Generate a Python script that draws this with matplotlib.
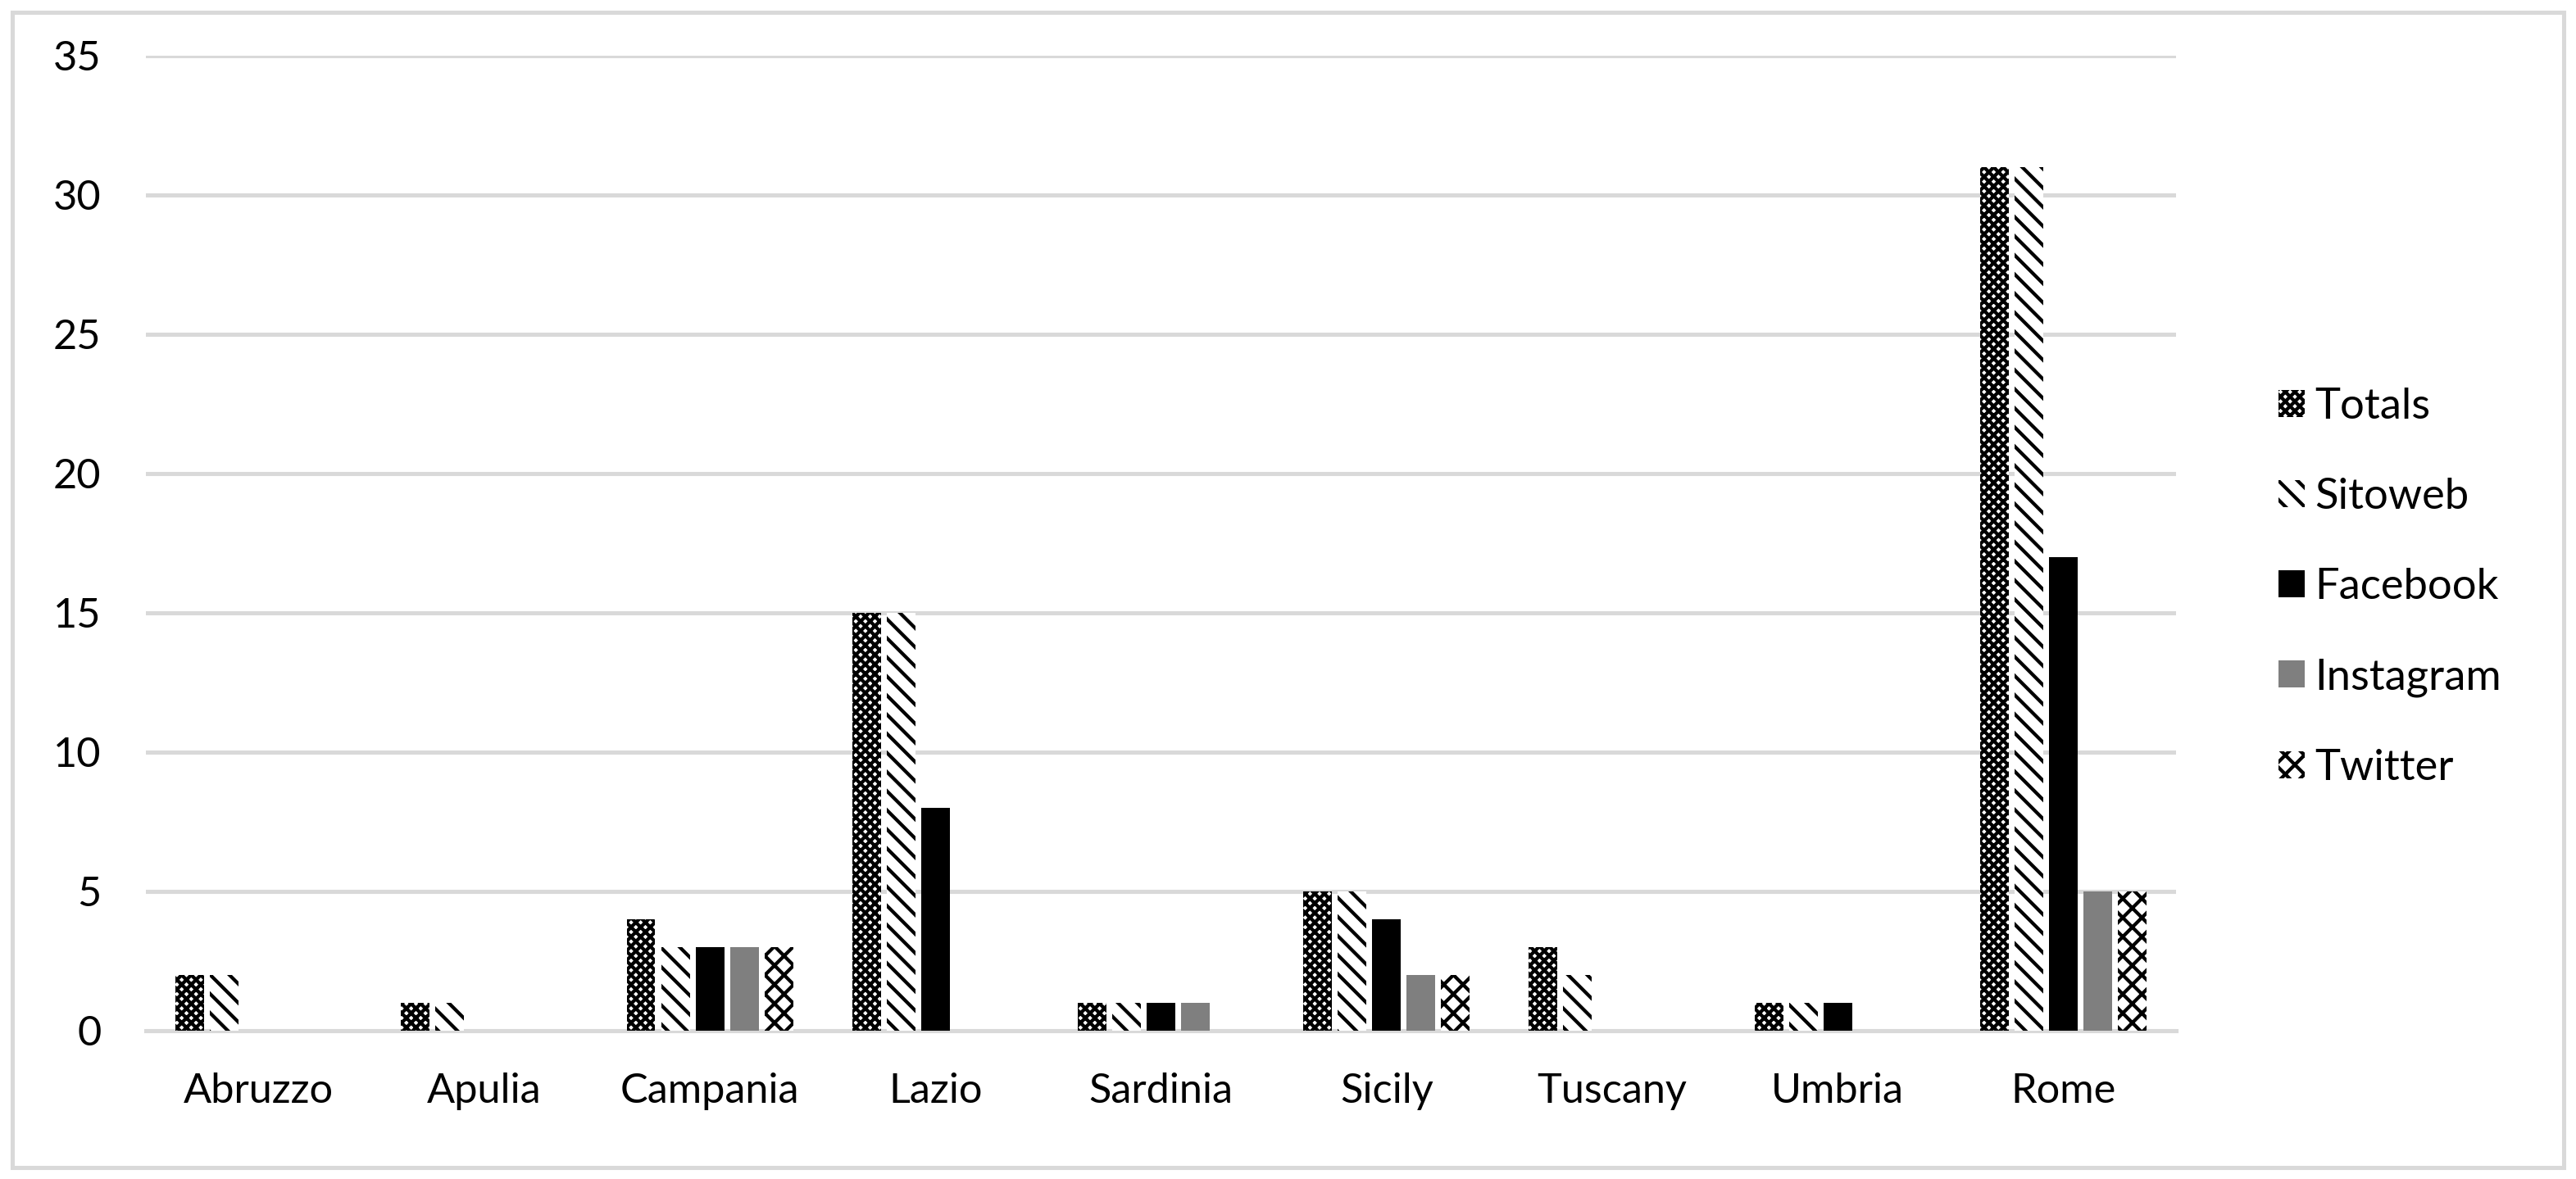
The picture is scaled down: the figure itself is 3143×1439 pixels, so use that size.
import matplotlib
matplotlib.use("Agg")
import matplotlib.pyplot as plt
import numpy as np
from matplotlib.patches import Rectangle

# Data
regions = ["Abruzzo", "Apulia", "Campania", "Lazio", "Sardinia",
           "Sicily", "Tuscany", "Umbria", "Rome"]
totals = [2, 1, 4, 15, 1, 5, 3, 1, 31]
sitoweb = [2, 1, 3, 15, 1, 5, 2, 1, 31]
facebook = [0, 0, 3, 8, 1, 4, 0, 1, 17]
instagram = [0, 0, 3, 0, 1, 2, 0, 0, 5]
twitter = [0, 0, 3, 0, 0, 2, 0, 0, 5]
series_names = ["Totals", "Sitoweb", "Facebook", "Instagram", "Twitter"]

plt.rcParams['font.family'] = ['Lato', 'DejaVu Sans']
plt.rcParams['hatch.linewidth'] = 2.2

DPI = 140
fig = plt.figure(figsize=(3143 / DPI, 1439 / DPI), dpi=DPI)
ax = fig.add_axes([178 / 3143, 181 / 1439, (2655 - 178) / 3143, (1258 - 68) / 1439])

# outer border
fig.patches.append(Rectangle((15 / 3143, 14 / 1439), (3128 - 15) / 3143, (1424 - 14) / 1439,
                             transform=fig.transFigure, fill=False,
                             edgecolor="#d9d9d9", linewidth=2.6))

x = np.arange(len(regions))
step = 0.1527
width = 0.127
styles = [
    dict(facecolor="white", edgecolor="black", hatch="xxxx"),
    dict(facecolor="white", edgecolor="black", hatch="\\\\"),
    dict(facecolor="black", edgecolor="black", hatch=None),
    dict(facecolor="#7f7f7f", edgecolor="#7f7f7f", hatch=None),
    dict(facecolor="white", edgecolor="black", hatch="xx"),
]
for i, (vals, name, st) in enumerate(zip([totals, sitoweb, facebook, instagram, twitter],
                                         series_names, styles)):
    ax.bar(x + (i - 2) * step, vals, width, label=name, linewidth=0, zorder=3, **st)

ax.set_xlim(-0.5, len(regions) - 0.5)
ax.set_ylim(0, 35)
ax.set_yticks(range(0, 36, 5))
ax.set_xticks(x)
ax.set_xticklabels(regions)
ax.grid(axis="y", color="#d9d9d9", linewidth=2.6, zorder=0)
ax.set_axisbelow(True)
for s in ["top", "right", "left"]:
    ax.spines[s].set_visible(False)
ax.spines["bottom"].set_color("#d9d9d9")
ax.spines["bottom"].set_linewidth(2.6)
ax.tick_params(axis="both", length=0, labelsize=26)
ax.tick_params(axis="y", pad=28)
ax.tick_params(axis="x", pad=26)

fig.legend(loc="center left", bbox_to_anchor=(2780 / 3143, 1 - 717 / 1439),
           frameon=False, fontsize=27, handlelength=0.6, handleheight=0.6,
           handletextpad=0.25, labelspacing=1.2, borderpad=0, borderaxespad=0)

fig.savefig("out.png", dpi=DPI)
